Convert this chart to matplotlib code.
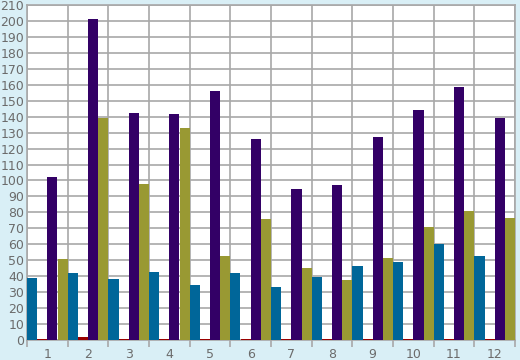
import matplotlib.pyplot as plt
import numpy as np

categories = ["1", "2", "3", "4", "5", "6", "7", "8", "9", "10", "11", "12"]
blue = [39, 42, 38, 42.5, 34.5, 42, 33, 39.5, 46.5, 49, 60, 52.5]
red = [0.6, 1.6, 0.6, 0.6, 0.6, 0.6, 0.6, 0.6, 0.6, 0.6, 0.6, 0.6]
purple = [102, 201, 142, 141.5, 156, 126, 94.5, 97, 127, 144, 158.5, 139]
olive = [51, 139, 98, 133, 52.7, 76, 45, 37.6, 51.4, 71, 81, 76.5]

bg = "#d9eff6"
grid = "#a8a8a8"
text = "#6b6b6b"

fig = plt.figure(figsize=(5.2, 3.6), dpi=100, facecolor=bg)
ax = fig.add_axes([27 / 520, 20 / 360, 488 / 520, 335 / 360])
ax.set_facecolor("white")

x = np.arange(len(categories))
w = 0.25
series = [(blue, "#006699"), (red, "#990000"), (purple, "#330066"), (olive, "#999933")]
for k, (vals, col) in enumerate(series):
    ax.bar(x + w * k + w / 2, vals, width=w, color=col, zorder=3)

ax.set_xlim(0, 12)
ax.set_ylim(0, 210)
ax.set_yticks(range(0, 211, 10))
ax.set_xticks(np.arange(0, 13), minor=False)
ax.set_xticklabels([])
ax.set_xticks(x + 0.5, minor=True)
ax.set_xticklabels(categories, minor=True)

ax.tick_params(axis="x", which="major", length=5, color=grid, width=1.2)
ax.tick_params(axis="x", which="minor", length=0, pad=6, labelsize=9, labelcolor=text)
ax.tick_params(axis="y", length=0, pad=2, labelsize=9, labelcolor=text)

ax.grid(True, which="major", color=grid, linewidth=1.2, zorder=0)
for s in ax.spines.values():
    s.set_color(grid)
    s.set_linewidth(1.2)

fig.savefig("out.png", dpi=100, facecolor=bg)
